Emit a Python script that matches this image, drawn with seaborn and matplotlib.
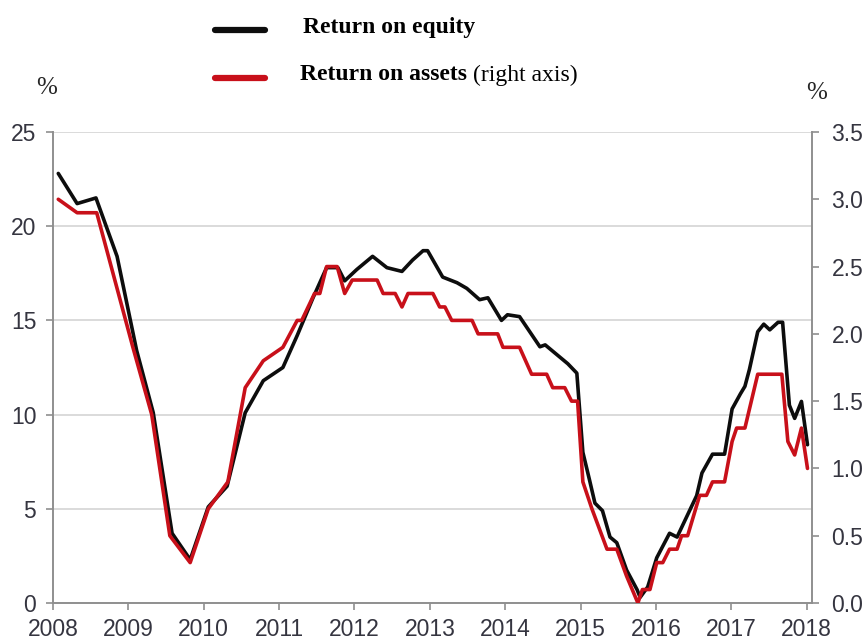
import matplotlib
matplotlib.use("Agg")
import matplotlib.pyplot as plt
from matplotlib.lines import Line2D
import seaborn as sns
import pandas as pd

# Return on equity (left axis, %), vertices
roe_dates = [2008.07, 2008.32, 2008.57, 2008.85, 2009.11, 2009.33, 2009.58, 2009.82,
             2010.06, 2010.31, 2010.55, 2010.79, 2011.05, 2011.24, 2011.45, 2011.63,
             2011.78, 2011.87, 2012.03, 2012.24, 2012.43, 2012.63, 2012.77, 2012.91,
             2012.97, 2013.17, 2013.36, 2013.49, 2013.66, 2013.77, 2013.95, 2014.03,
             2014.19, 2014.46, 2014.53, 2014.68, 2014.83, 2014.95, 2015.03, 2015.12,
             2015.19, 2015.29, 2015.39, 2015.48, 2015.61, 2015.75, 2015.79, 2015.89,
             2016.01, 2016.18, 2016.28, 2016.41, 2016.54, 2016.61, 2016.75, 2016.91,
             2017.01, 2017.12, 2017.18, 2017.24, 2017.35, 2017.43, 2017.51, 2017.62,
             2017.68, 2017.77, 2017.84, 2017.93, 2018.01]
roe_values = [22.8, 21.2, 21.5, 18.4, 13.4, 10.1, 3.7, 2.3,
              5.1, 6.2, 10.1, 11.8, 12.5, 14.2, 16.2, 17.8,
              17.8, 17.1, 17.7, 18.4, 17.8, 17.6, 18.2, 18.7,
              18.7, 17.3, 17.0, 16.7, 16.1, 16.2, 15.0, 15.3,
              15.2, 13.6, 13.7, 13.2, 12.7, 12.2, 8.0, 6.5,
              5.3, 4.9, 3.5, 3.2, 1.75, 0.7, 0.3, 0.85,
              2.4, 3.7, 3.5, 4.6, 5.7, 6.9, 7.9, 7.9,
              10.3, 11.1, 11.5, 12.4, 14.4, 14.8, 14.5, 14.9,
              14.9, 10.5, 9.8, 10.7, 8.4]

# Return on assets (right axis, %)
roa_dates = [2008.07, 2008.32, 2008.58, 2008.82, 2009.06, 2009.31, 2009.55, 2009.82,
             2010.06, 2010.32, 2010.55, 2010.79, 2011.05, 2011.24, 2011.30, 2011.47,
             2011.54, 2011.63, 2011.77, 2011.87, 2011.97, 2012.30, 2012.38, 2012.54,
             2012.63, 2012.71, 2013.04, 2013.13, 2013.20, 2013.29, 2013.56, 2013.64,
             2013.90, 2013.97, 2014.19, 2014.35, 2014.55, 2014.63, 2014.79, 2014.88,
             2014.96, 2015.03, 2015.15, 2015.35, 2015.48, 2015.61, 2015.76, 2015.82,
             2015.92, 2016.01, 2016.09, 2016.18, 2016.28, 2016.34, 2016.42, 2016.58,
             2016.67, 2016.75, 2016.91, 2017.01, 2017.07, 2017.18, 2017.35, 2017.67,
             2017.75, 2017.84, 2017.93, 2018.01]
roa_values = [3.0, 2.9, 2.9, 2.4, 1.9, 1.4, 0.5, 0.3,
              0.7, 0.9, 1.6, 1.8, 1.9, 2.1, 2.1, 2.3,
              2.3, 2.5, 2.5, 2.3, 2.4, 2.4, 2.3, 2.3,
              2.2, 2.3, 2.3, 2.2, 2.2, 2.1, 2.1, 2.0,
              2.0, 1.9, 1.9, 1.7, 1.7, 1.6, 1.6, 1.5,
              1.5, 0.9, 0.7, 0.4, 0.4, 0.2, 0.0, 0.1,
              0.1, 0.3, 0.3, 0.4, 0.4, 0.5, 0.5, 0.8,
              0.8, 0.9, 0.9, 1.2, 1.3, 1.3, 1.7, 1.7,
              1.2, 1.1, 1.3, 1.0]

years = list(range(2008, 2019))
left_ticks = [0, 5, 10, 15, 20, 25]
right_ticks = [0.0, 0.5, 1.0, 1.5, 2.0, 2.5, 3.0, 3.5]

roe = pd.DataFrame({"date": roe_dates, "value": roe_values})
roa = pd.DataFrame({"date": roa_dates, "value": roa_values})

sns.set_style("white")
plt.rcParams["font.family"] = ["Liberation Sans", "DejaVu Sans"]

W, H = 866, 644
fig = plt.figure(figsize=(W / 100, H / 100), dpi=100)
ax = fig.add_axes([53 / W, 1 - 603 / H, (812 - 53) / W, (603 - 132) / H])
ax2 = ax.twinx()

black = "#0d0d0d"
red = "#c8101a"
spine_c = "#8f8f8f"
txt_c = "#353540"

sns.lineplot(data=roe, x="date", y="value", ax=ax, color=black, linewidth=2.6)
sns.lineplot(data=roa, x="date", y="value", ax=ax2, color=red, linewidth=2.6)

ax.set_xlim(2008, 2018.07)
ax.set_ylim(0, 25)
ax2.set_ylim(0, 3.5)
ax.set_xticks(years)
ax.set_xticklabels([str(y) for y in years])
ax.set_yticks(left_ticks)
ax2.set_yticks(right_ticks)
ax2.set_yticklabels([f"{t:.1f}" for t in right_ticks])
for a in (ax, ax2):
    a.set_xlabel("")
    a.set_ylabel("")

ax.yaxis.grid(True, color="#d4d4d4", linewidth=1.2)
ax.set_axisbelow(True)

for a in (ax, ax2):
    a.spines["top"].set_visible(False)
    for s in ("left", "right", "bottom"):
        a.spines[s].set_color(spine_c)
        a.spines[s].set_linewidth(1.4)
ax.spines["right"].set_visible(False)
ax2.spines["left"].set_visible(False)
ax2.spines["bottom"].set_visible(False)

ax.tick_params(axis="x", direction="out", length=5, width=1.2, color=spine_c,
               labelsize=16.5, labelcolor=txt_c, pad=6, bottom=True)
ax.tick_params(axis="y", direction="out", length=5, width=1.2, color=spine_c,
               labelsize=16.5, labelcolor=txt_c, pad=7, left=True)
ax2.tick_params(axis="y", direction="out", length=5, width=1.2, color=spine_c,
                labelsize=16.5, labelcolor=txt_c, pad=9, right=True)

# legend drawn by hand at the top
serif = ["Liberation Serif", "DejaVu Serif"]
fig.add_artist(Line2D([215 / W, 265 / W], [1 - 30 / H, 1 - 30 / H], color=black, linewidth=4.5))
fig.add_artist(Line2D([215 / W, 265 / W], [1 - 78 / H, 1 - 78 / H], color=red, linewidth=4.5))
fig.text(303 / W, 1 - 27 / H, "Return on equity", fontsize=17, fontweight="bold",
         family=serif, va="center", ha="left", color="black")
t1 = fig.text(300 / W, 1 - 75 / H, "Return on assets", fontsize=17, fontweight="bold",
              family=serif, va="center", ha="left", color="black")
fig.canvas.draw()
bb = t1.get_window_extent()
fig.text(bb.x1 / W + 6 / W, 1 - 75 / H, "(right axis)", fontsize=17,
         family=serif, va="center", ha="left", color="black")

fig.text(47 / W, 1 - 88 / H, "%", fontsize=18, family=serif, ha="center", va="center")
fig.text(817 / W, 1 - 93 / H, "%", fontsize=18, family=serif, ha="center", va="center")

fig.savefig("out.png", dpi=100)
